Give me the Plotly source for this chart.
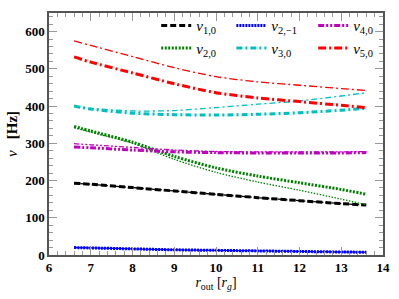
import plotly.graph_objects as go

r_out = [6.6, 7, 8, 9, 10, 11, 12, 13, 13.6]

nu10_a = [193, 190, 181, 172, 163, 154, 146, 138, 134]
nu10_b = [193, 190, 181, 172, 163, 154, 146, 138, 134]
nu2m1_a = [20, 19, 16.5, 14, 12.5, 11, 9.5, 8, 7.5]
nu2m1_b = [20, 19, 16.5, 14, 12.5, 11, 9.5, 8, 7.5]
nu20_a = [345, 333, 303, 265, 234, 212, 194, 176, 163]
nu20_b = [342, 330, 300, 257, 222, 196, 174, 150, 135]
nu30_a = [400, 392, 381, 377, 376, 378, 382, 389, 394]
nu30_b = [400, 394, 387, 388, 396, 405, 414, 427, 436]
nu40_a = [290, 288, 282, 277, 275, 274, 274, 274, 275]
nu40_b = [299, 296, 289, 282, 278, 277, 277, 277, 278]
nu50_a = [532, 518, 489, 460, 436, 422, 412, 402, 396]
nu50_b = [575, 563, 533, 503, 479, 465, 456, 447, 442]

names = ["<i>ν</i><sub>1,0</sub>", "<i>ν</i><sub>2,−1</sub>", "<i>ν</i><sub>2,0</sub>",
         "<i>ν</i><sub>3,0</sub>", "<i>ν</i><sub>4,0</sub>", "<i>ν</i><sub>5,0</sub>"]

series = [
    (names[0], nu10_a, nu10_b, "black", "6px,3px", "4px,2px", "legend"),
    (names[1], nu2m1_a, nu2m1_b, "blue", "2px,1px", "solid", "legend2"),
    (names[2], nu20_a, nu20_b, "green", "2px,1.5px", "1.5px,1.5px", "legend"),
    (names[3], nu30_a, nu30_b, "#00BFBF", "6px,3px,2px,3px", "6px,3px,2px,3px", "legend2"),
    (names[4], nu40_a, nu40_b, "#BF00BF", "6px,2px,2px,2px,2px,2px", "5px,2px,2px,2px,2px,2px", "legend3"),
    (names[5], nu50_a, nu50_b, "red", "8px,3px,2px,3px", "8px,3px,2px,3px", "legend3"),
]

fig = go.Figure()
for name, ya, yb, col, dash_a, dash_b, lg in series:
    fig.add_trace(go.Scatter(x=r_out, y=yb, mode="lines",
                             line=dict(color=col, width=1.3, dash=dash_b, shape="spline", smoothing=0.8),
                             showlegend=False, hoverinfo="skip"))
    fig.add_trace(go.Scatter(x=r_out, y=ya, mode="lines", name=name, legend=lg,
                             line=dict(color=col, width=3, dash=dash_a, shape="spline", smoothing=0.8)))

tickfont = dict(family="Liberation Serif", size=13, color="black", weight="bold")
axis_common = dict(showline=True, linecolor="#555555", linewidth=1.5, mirror="allticks", ticks="inside",
                   tickcolor="#999999", ticklen=8, tickwidth=1.2, showgrid=False, zeroline=False,
                   tickfont=tickfont)

fig.update_xaxes(range=[6, 14], dtick=1, tick0=6,
                 minor=dict(dtick=0.2, ticks="inside", ticklen=4, tickcolor="#999999", tickwidth=1),
                 title=dict(text="<i>r</i><sub>out</sub> [<i>r</i><sub><i>g</i></sub>]",
                            font=dict(family="Liberation Serif", size=14, color="black"), standoff=2),
                 **axis_common)
fig.update_yaxes(range=[0, 650], dtick=100, tick0=0,
                 minor=dict(dtick=20, ticks="inside", ticklen=4, tickcolor="#999999", tickwidth=1),
                 title=dict(text="<i>ν</i>   <b>[Hz]</b>",
                            font=dict(family="Liberation Serif", size=15, color="black"), standoff=4),
                 **axis_common)

legfont = dict(family="Liberation Serif", size=15, color="black")
legbase = dict(bgcolor="rgba(0,0,0,0)", font=legfont, itemwidth=30, tracegroupgap=0,
               xanchor="left", yanchor="top", y=1.016, orientation="v")
fig.update_layout(
    width=399, height=299,
    margin=dict(l=49, r=16, t=9, b=44),
    paper_bgcolor="white", plot_bgcolor="white",
    legend=dict(x=0.321, **legbase),
    legend2=dict(x=0.546, **legbase),
    legend3=dict(x=0.791, **legbase),
)

fig.write_html("out.html", config={"displayModeBar": False},
               post_script="document.body.style.margin='0px';")
